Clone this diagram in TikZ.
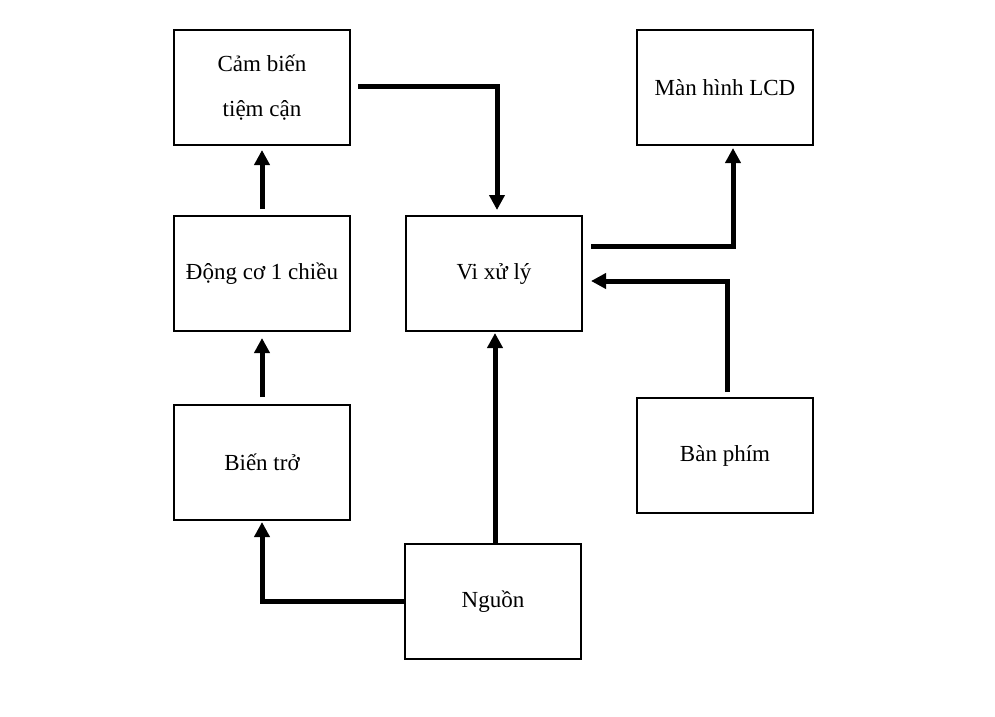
\documentclass[tikz,border=0pt]{standalone}
\usepackage{fontspec}
\setmainfont{Liberation Serif}
\usetikzlibrary{arrows.meta,calc}
\tikzset{
  blk/.style={draw, line width=2pt, minimum width=176pt, minimum height=115pt, inner sep=0pt, align=center, font=\fontsize{23}{45}\selectfont},
  arr/.style={line width=5pt, line join=miter, -{Triangle[length=15pt,width=15pt]}}
}
\begin{document}
\begin{tikzpicture}[x=1pt,y=-1pt]
\fill[white] (0,0) rectangle (995,716);
\useasboundingbox (0,0) rectangle (995,716);
\node[blk] (cb) at (262,87.5) {Cảm biến\\tiệm cận};
\node[blk] (lcd) at (725,87.5) {Màn hình LCD};
\node[blk] (dc) at (262,273.5) {Động cơ 1 chiều};
\node[blk] (vxl) at (494,273.5) {Vi xử lý};
\node[blk] (bt) at (262,462.5) {Biến trở};
\node[blk] (bp) at (725,455.5) {Bàn phím};
\node[blk] (ng) at (493,601.5) {Nguồn};
\draw[arr] ($(cb.east)+(7,-1.5)$) -| ($(vxl.north)+(3,-5)$);
\draw[arr] ($(vxl.east)+(8,-27.5)$) -| ($(lcd.south)+(8,2)$);
\draw[arr] ($(bp.north)+(2,-5)$) |- ($(vxl.east)+(8,7.5)$);
\draw[arr] ($(ng.north)+(2,0)$) -- ($(vxl.south)+(1,1)$);
\draw[arr] ($(ng.west)+(1,0)$) -| ($(bt.south)+(0,1)$);
\draw[arr] ($(bt.north)+(0,-7)$) -- ($(dc.south)+(0,6)$);
\draw[arr] ($(dc.north)+(0,-6)$) -- ($(cb.south)+(0,4)$);
\end{tikzpicture}
\end{document}
